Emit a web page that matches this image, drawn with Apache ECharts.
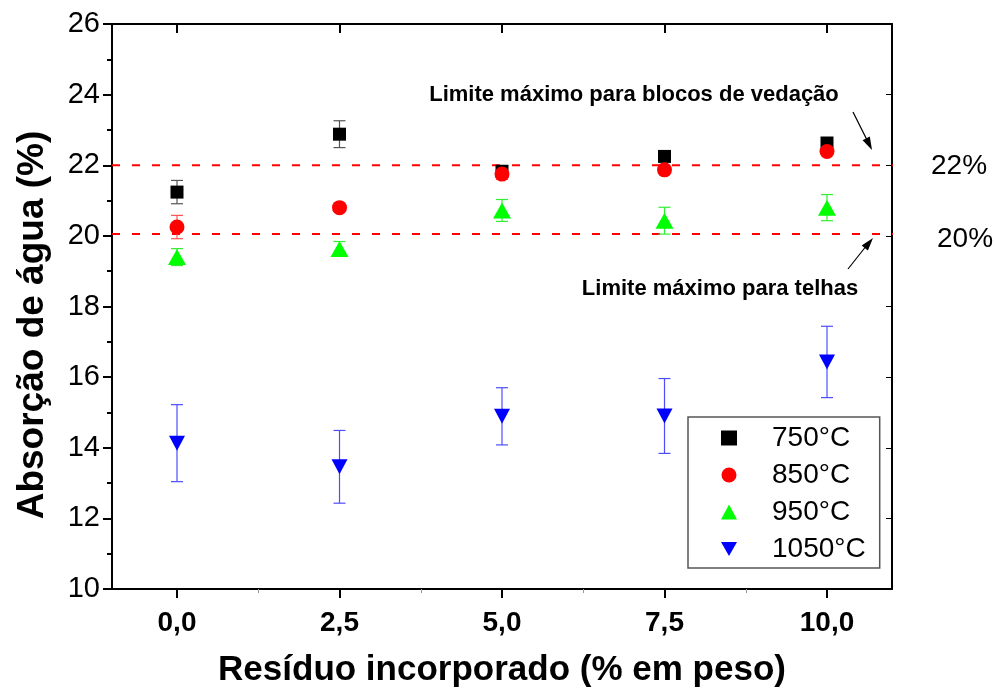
<!DOCTYPE html>
<html>
<head>
<meta charset="utf-8">
<script src="https://cdn.jsdelivr.net/npm/echarts@6/dist/echarts.min.js"></script>
<style>
html,body{margin:0;padding:0;background:#fff;}
#chart{width:995px;height:693px;}
</style>
</head>
<body>
<div id="chart"></div>
<script>
// ---- data ----
var xValues = [0, 2.5, 5, 7.5, 10];
var xTickLabels = ['0,0', '2,5', '5,0', '7,5', '10,0'];
var xMinorTicks = [1.25, 3.75, 6.25, 8.75];
var seriesNames = ['750°C', '850°C', '950°C', '1050°C'];
var abs750 = [21.24, 22.88, 21.83, 22.25, 22.63];
var err750 = [0.33, 0.38, 0.08, 0.08, 0.08];
var abs850 = [20.25, 20.80, 21.75, 21.87, 22.39];
var err850 = [0.33, 0.10, 0.15, 0.10, 0.10];
var abs950 = [19.40, 19.63, 20.72, 20.43, 20.80];
var err950 = [0.24, 0.21, 0.31, 0.38, 0.37];
var abs1050 = [14.13, 13.46, 14.89, 14.90, 16.43];
var err1050 = [1.09, 1.03, 0.81, 1.06, 1.01];
var limitBlocks = 22;
var limitTiles = 20.05;
var limitLineX = [-1, 11.5];

var chart = echarts.init(document.getElementById('chart'));

function pts(vals) { return xValues.map(function (x, i) { return [x, vals[i]]; }); }
function errPts(vals, errs) { return xValues.map(function (x, i) { return [x, vals[i] - errs[i], vals[i] + errs[i]]; }); }

function errSeries(name, vals, errs, color, cap) {
  return {
    name: name, type: 'custom', silent: true,
    data: errPts(vals, errs),
    encode: { x: 0, y: [1, 2] },
    renderItem: function (params, api) {
      var lo = api.coord([api.value(0), api.value(1)]);
      var hi = api.coord([api.value(0), api.value(2)]);
      var st = { stroke: color, lineWidth: 1.2 };
      return {
        type: 'group', children: [
          { type: 'line', shape: { x1: lo[0], y1: lo[1], x2: hi[0], y2: hi[1] }, style: st },
          { type: 'line', shape: { x1: lo[0] - cap, y1: lo[1], x2: lo[0] + cap, y2: lo[1] }, style: st },
          { type: 'line', shape: { x1: hi[0] - cap, y1: hi[1], x2: hi[0] + cap, y2: hi[1] }, style: st }
        ]
      };
    }
  };
}
function scatter(name, vals, symbol, size, color) {
  return { name: name, type: 'scatter', data: pts(vals), symbol: symbol, symbolSize: size,
    itemStyle: { color: color, opacity: 1 }, silent: true };
}
function limitLine(name, y) {
  return { name: name, type: 'line', data: [[limitLineX[0], y], [limitLineX[1], y]], clip: false,
    symbol: 'none', silent: true, lineStyle: { color: '#ff0000', width: 2, type: [8, 12] }, z: 1 };
}

var invTri = 'path://M0,0L20,0L10,17.5Z';
var font = 'Liberation Sans, Arial, sans-serif';

var option = {
  animation: false,
  backgroundColor: '#fff',
  grid: { left: 112, top: 24, right: 103, bottom: 103, containLabel: false },
  xAxis: [
    { type: 'value', min: -1, max: 11, position: 'bottom',
      axisLine: { show: true, onZero: false, lineStyle: { color: '#000', width: 2 } },
      axisTick: { show: true, inside: false, length: 9, customValues: xValues, lineStyle: { color: '#000', width: 2 } },
      axisLabel: { show: true, customValues: xValues, margin: 20,
        formatter: function (v) { var i = xValues.indexOf(v); return i >= 0 ? xTickLabels[i] : ''; },
        fontFamily: font, fontWeight: 'bold', fontSize: 28, color: '#000' },
      splitLine: { show: false },
      name: 'Resíduo incorporado (% em peso)', nameLocation: 'middle', nameGap: 64,
      nameTextStyle: { fontFamily: font, fontWeight: 'bold', fontSize: 35, color: '#000' } },
    { type: 'value', min: -1, max: 11, position: 'top',
      axisLine: { show: true, onZero: false, lineStyle: { color: '#000', width: 2 } },
      axisTick: { show: true, inside: true, length: 9, customValues: xValues, lineStyle: { color: '#000', width: 2 } },
      axisLabel: { show: false }, splitLine: { show: false } },
    { type: 'value', min: -1, max: 11, position: 'bottom',
      axisLine: { show: false, onZero: false },
      axisTick: { show: true, inside: false, length: 4, customValues: xMinorTicks, lineStyle: { color: '#999', width: 1 } },
      axisLabel: { show: false }, splitLine: { show: false } }
  ],
  yAxis: [
    { type: 'value', min: 10, max: 26, interval: 2, position: 'left',
      axisLine: { show: true, onZero: false, lineStyle: { color: '#000', width: 2 } },
      axisTick: { show: true, inside: false, length: 9, lineStyle: { color: '#000', width: 2 } },
      minorTick: { show: true, splitNumber: 2, length: 5, lineStyle: { color: '#000', width: 2 } },
      axisLabel: { fontFamily: font, fontSize: 29, color: '#000', margin: 12 },
      splitLine: { show: false } },
    { type: 'value', min: 10, max: 26, interval: 2, position: 'right',
      axisLine: { show: true, onZero: false, lineStyle: { color: '#000', width: 2 } },
      axisTick: { show: true, inside: true, length: 6, lineStyle: { color: '#000', width: 1 } },
      axisLabel: { show: false }, splitLine: { show: false } }
  ],
  legend: {
    orient: 'vertical', left: 688, top: 417,
    data: [
      { name: seriesNames[0], icon: 'rect' },
      { name: seriesNames[1], icon: 'circle' },
      { name: seriesNames[2], icon: 'triangle' },
      { name: seriesNames[3], icon: invTri }
    ],
    itemWidth: 16, itemHeight: 15, itemGap: 9,
    padding: [7, 14, 5, 33],
    borderColor: '#555', borderWidth: 1.5, backgroundColor: '#fff',
    textStyle: { fontFamily: font, fontSize: 28, color: '#000', lineHeight: 28, padding: [0, 0, 0, 30] },
    selectedMode: false
  },
  graphic: [
    { type: 'text', x: 33, y: 325, rotation: Math.PI / 2,
      style: { text: 'Absorção de água (%)', fontFamily: font, fontWeight: 'bold', fontSize: 37, fill: '#000', align: 'center', verticalAlign: 'middle' } },
    { type: 'text', x: 634, y: 95,
      style: { text: 'Limite máximo para blocos de vedação', fontFamily: font, fontWeight: 'bold', fontSize: 22, fill: '#000', align: 'center', verticalAlign: 'middle' } },
    { type: 'text', x: 720, y: 289,
      style: { text: 'Limite máximo para telhas', fontFamily: font, fontWeight: 'bold', fontSize: 22, fill: '#000', align: 'center', verticalAlign: 'middle' } },
    { type: 'text', x: 931, y: 166,
      style: { text: '22%', fontFamily: font, fontSize: 28, fill: '#000', align: 'left', verticalAlign: 'middle' } },
    { type: 'text', x: 937, y: 239,
      style: { text: '20%', fontFamily: font, fontSize: 28, fill: '#000', align: 'left', verticalAlign: 'middle' } },
    { type: 'line', shape: { x1: 853, y1: 112, x2: 868, y2: 142 }, style: { stroke: '#000', lineWidth: 1.2 } },
    { type: 'polygon', shape: { points: [[872, 150], [862.6, 140.2], [869.8, 136.6]] }, style: { fill: '#000' } },
    { type: 'line', shape: { x1: 848, y1: 269, x2: 867, y2: 245 }, style: { stroke: '#000', lineWidth: 1.2 } },
    { type: 'polygon', shape: { points: [[873, 238], [867.9, 250.6], [861.7, 245.6]] }, style: { fill: '#000' } }
  ],
  series: [
    limitLine('limite22', limitBlocks),
    limitLine('limite20', limitTiles),
    errSeries('err750', abs750, err750, '#555555', 6),
    scatter(seriesNames[0], abs750, 'rect', 13, '#000000'),
    errSeries('err850', abs850, err850, '#ff5555', 6),
    scatter(seriesNames[1], abs850, 'circle', 15, '#ff0000'),
    errSeries('err950', abs950, err950, '#33ee33', 6),
    scatter(seriesNames[2], abs950, 'triangle', [18, 16], '#00ff00'),
    errSeries('err1050', abs1050, err1050, '#4d4dff', 6),
    scatter(seriesNames[3], abs1050, invTri, [16, 15], '#0000ff')
  ]
};
chart.setOption(option);
</script>
</body>
</html>
